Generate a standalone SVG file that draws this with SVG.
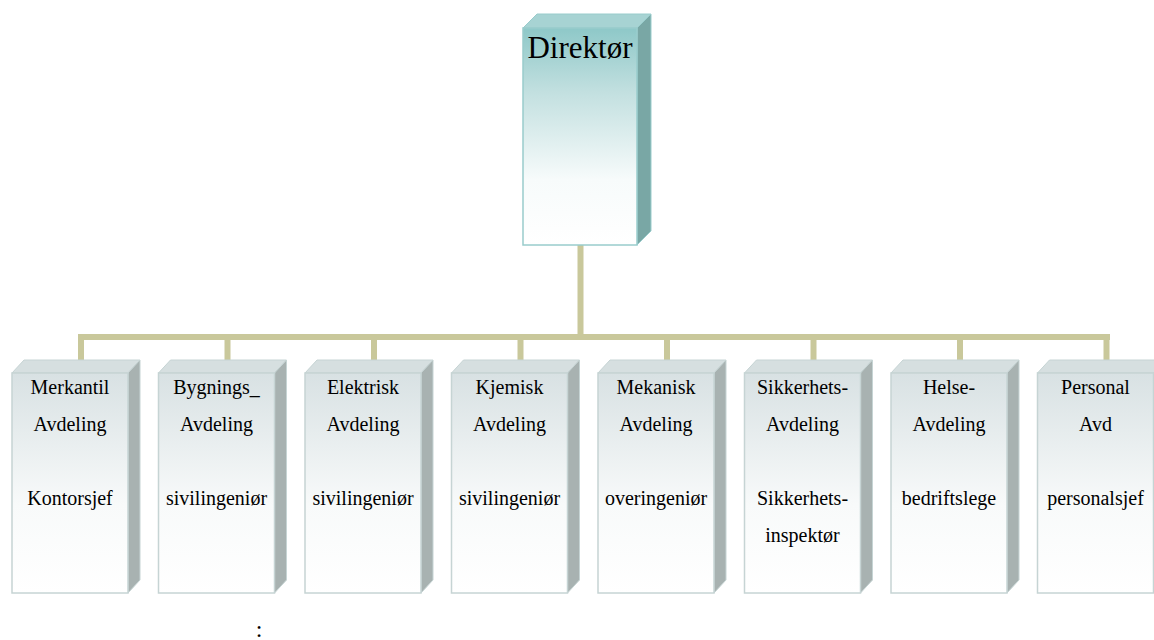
<svg xmlns="http://www.w3.org/2000/svg" width="1154" height="640" viewBox="0 0 1154 640">
<style>
.t{font-family:"Liberation Serif",serif;font-size:20px;fill:#000;text-anchor:middle}
.dt{font-family:"Liberation Serif",serif;font-size:31px;fill:#000;text-anchor:middle}
.bus{stroke:#c9c89b;stroke-width:6;fill:none;stroke-linecap:butt}
.lf{fill:url(#gl);stroke:#c6d4d4;stroke-width:1.5}
.ls{fill:#a8b2b1;stroke:#c6d4d4;stroke-width:1}
.lt{fill:#d6dfe0;stroke:#c6d4d4;stroke-width:1}
</style>
<defs>
<linearGradient id="gd" x1="0" y1="0" x2="0" y2="1">
<stop offset="0" stop-color="#8ec8c8"/>
<stop offset="0.3" stop-color="#c3e0e0"/>
<stop offset="0.7" stop-color="#f7fbfb"/>
<stop offset="1" stop-color="#ffffff"/>
</linearGradient>
<linearGradient id="gl" x1="0" y1="0" x2="0" y2="1">
<stop offset="0" stop-color="#d8e1e3"/>
<stop offset="0.6" stop-color="#f8fafa"/>
<stop offset="1" stop-color="#ffffff"/>
</linearGradient>
</defs>
<rect width="1154" height="640" fill="#fff"/>
<g id="connectors">
<path class="bus" d="M580.5,245 V337 M78,337 H1110 M81,337 V360 M227.5,337 V360 M374,337 V360 M520.5,337 V360 M667,337 V360 M813.5,337 V360 M960,337 V360 M1106.5,337 V360"/>
</g>
<g id="direktor">
<polygon points="523,28 537,14 651,14 637,28" fill="#a7d3d3" stroke="#99cccc" stroke-width="1"/>
<polygon points="637,28 651,14 651,231 637,245" fill="#79a7a5" stroke="#99cccc" stroke-width="1"/>
<rect x="523" y="28" width="114" height="217" fill="url(#gd)" stroke="#99cccc" stroke-width="1.5"/>
<text class="dt" x="580" y="58" font-family="Liberation Serif">Direktør</text>
</g>
<g id="merkantil" transform="translate(12,0)">
<polygon class="lt" points="0,373 12,360 128,360 116,373"/>
<polygon class="ls" points="116,373 128,360 128,580 116,593"/>
<rect class="lf" x="0" y="373" width="116" height="220"/>
<text class="t" x="58" y="394">Merkantil</text>
<text class="t" x="58" y="431">Avdeling</text>
<text class="t" x="58" y="505">Kontorsjef</text>
</g>
<g id="bygnings" transform="translate(158.5,0)">
<polygon class="lt" points="0,373 12,360 128,360 116,373"/>
<polygon class="ls" points="116,373 128,360 128,580 116,593"/>
<rect class="lf" x="0" y="373" width="116" height="220"/>
<text class="t" x="58" y="394">Bygnings_</text>
<text class="t" x="58" y="431">Avdeling</text>
<text class="t" x="58" y="505">sivilingeniør</text>
</g>
<g id="elektrisk" transform="translate(305,0)">
<polygon class="lt" points="0,373 12,360 128,360 116,373"/>
<polygon class="ls" points="116,373 128,360 128,580 116,593"/>
<rect class="lf" x="0" y="373" width="116" height="220"/>
<text class="t" x="58" y="394">Elektrisk</text>
<text class="t" x="58" y="431">Avdeling</text>
<text class="t" x="58" y="505">sivilingeniør</text>
</g>
<g id="kjemisk" transform="translate(451.5,0)">
<polygon class="lt" points="0,373 12,360 128,360 116,373"/>
<polygon class="ls" points="116,373 128,360 128,580 116,593"/>
<rect class="lf" x="0" y="373" width="116" height="220"/>
<text class="t" x="58" y="394">Kjemisk</text>
<text class="t" x="58" y="431">Avdeling</text>
<text class="t" x="58" y="505">sivilingeniør</text>
</g>
<g id="mekanisk" transform="translate(598,0)">
<polygon class="lt" points="0,373 12,360 128,360 116,373"/>
<polygon class="ls" points="116,373 128,360 128,580 116,593"/>
<rect class="lf" x="0" y="373" width="116" height="220"/>
<text class="t" x="58" y="394">Mekanisk</text>
<text class="t" x="58" y="431">Avdeling</text>
<text class="t" x="58" y="505">overingeniør</text>
</g>
<g id="sikkerhets" transform="translate(744.5,0)">
<polygon class="lt" points="0,373 12,360 128,360 116,373"/>
<polygon class="ls" points="116,373 128,360 128,580 116,593"/>
<rect class="lf" x="0" y="373" width="116" height="220"/>
<text class="t" x="58" y="394">Sikkerhets-</text>
<text class="t" x="58" y="431">Avdeling</text>
<text class="t" x="58" y="505">Sikkerhets-</text>
<text class="t" x="58" y="542">inspektør</text>
</g>
<g id="helse" transform="translate(891,0)">
<polygon class="lt" points="0,373 12,360 128,360 116,373"/>
<polygon class="ls" points="116,373 128,360 128,580 116,593"/>
<rect class="lf" x="0" y="373" width="116" height="220"/>
<text class="t" x="58" y="394">Helse-</text>
<text class="t" x="58" y="431">Avdeling</text>
<text class="t" x="58" y="505">bedriftslege</text>
</g>
<g id="personal" transform="translate(1037.5,0)">
<polygon class="lt" points="0,373 12,360 128,360 116,373"/>
<polygon class="ls" points="116,373 128,360 128,580 116,593"/>
<rect class="lf" x="0" y="373" width="116" height="220"/>
<text class="t" x="58" y="394">Personal</text>
<text class="t" x="58" y="431">Avd</text>
<text class="t" x="58" y="505">personalsjef</text>
</g>
<text class="t" x="259" y="637" style="font-size:24px">:</text>
</svg>
